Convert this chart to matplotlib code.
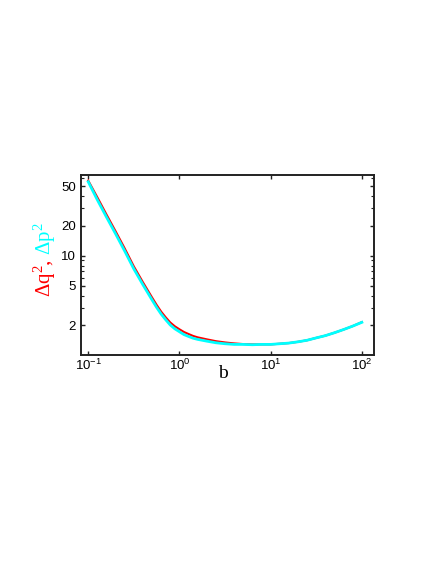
import matplotlib
matplotlib.use("Agg")
import matplotlib.pyplot as plt
from matplotlib.ticker import LogLocator, NullFormatter, FixedLocator, FixedFormatter

plt.rcParams["font.family"] = "Liberation Sans"
plt.rcParams["mathtext.default"] = "regular"

# values
b = [0.1, 0.126, 0.158, 0.2, 0.251, 0.316, 0.398, 0.501, 0.562, 0.631,
     0.708, 0.794, 0.891, 1.0, 1.12, 1.26, 1.41, 1.58, 2.0, 2.51,
     3.16, 3.98, 5.01, 6.31, 7.94, 10.0, 12.6, 15.8, 20.0, 25.1,
     31.6, 39.8, 50.1, 63.1, 79.4, 100.0]
dq2 = [57.1, 38.7, 26.2, 17.6, 11.9, 7.85, 5.43, 3.82, 3.22, 2.75,
       2.41, 2.14, 1.96, 1.83, 1.72, 1.64, 1.57, 1.52, 1.45, 1.39,
       1.35, 1.32, 1.30, 1.29, 1.29, 1.29, 1.31, 1.33, 1.37, 1.42,
       1.50, 1.58, 1.69, 1.82, 1.97, 2.16]
dp2 = [55.6, 36.5, 24.7, 16.6, 11.2, 7.41, 5.13, 3.61, 3.04, 2.60,
       2.28, 2.02, 1.85, 1.73, 1.62, 1.55, 1.49, 1.45, 1.39, 1.34,
       1.31, 1.29, 1.29, 1.28, 1.29, 1.29, 1.31, 1.33, 1.37, 1.42,
       1.50, 1.58, 1.69, 1.82, 1.97, 2.15]

y_ticks = [2, 5, 10, 20, 50]
x_ticks = [0.1, 1, 10, 100]
x_tick_labels = ["$10^{-1}$", "$10^{0}$", "$10^{1}$", "$10^{2}$"]

fig = plt.figure(figsize=(4.36, 5.64), dpi=100)
ax = fig.add_axes([0.185, 0.3706, 0.6735, 0.3191])

ax.plot(b, dq2, color="red", lw=1.5)
ax.plot(b, dp2, color="cyan", lw=2.0)

ax.set_xscale("log")
ax.set_yscale("log")
ax.set_xlim(0.0826, 137)
ax.set_ylim(1.01, 65)

ax.xaxis.set_major_locator(FixedLocator(x_ticks))
ax.xaxis.set_major_formatter(FixedFormatter(x_tick_labels))
ax.xaxis.set_minor_locator(FixedLocator([]))
ax.yaxis.set_major_locator(FixedLocator(y_ticks))
ax.yaxis.set_major_formatter(FixedFormatter([str(t) for t in y_ticks]))
ax.yaxis.set_minor_locator(LogLocator(base=10, subs=range(1, 10)))
ax.yaxis.set_minor_formatter(NullFormatter())

ax.tick_params(which="both", direction="in", top=True, right=True,
               labelsize=9.5, colors="#222222", labelcolor="black")
ax.tick_params(which="major", length=3, width=1)
ax.tick_params(which="minor", length=2, width=0.8)
ax.tick_params(axis="x", pad=2)
for s in ax.spines.values():
    s.set_linewidth(1.4)
    s.set_color("#222222")

ax.set_xlabel("b", family="Liberation Serif", fontsize=14)
ax.xaxis.set_label_coords(0.485, -0.058)

# two-coloured y label
fig.canvas.draw()
r = fig.canvas.get_renderer()
t1 = fig.text(45 / 436, 1 - 297 / 564, "Δq$^2$,", color="red", rotation=90,
              ha="center", va="bottom", family="Liberation Serif", fontsize=15)
ext = t1.get_window_extent(r)
fig.text(45 / 436, (ext.y1 + 4) / fig.bbox.height, "Δp$^2$", color="cyan", rotation=90,
         ha="center", va="bottom", family="Liberation Serif", fontsize=15)

fig.savefig("out.png", dpi=100)
